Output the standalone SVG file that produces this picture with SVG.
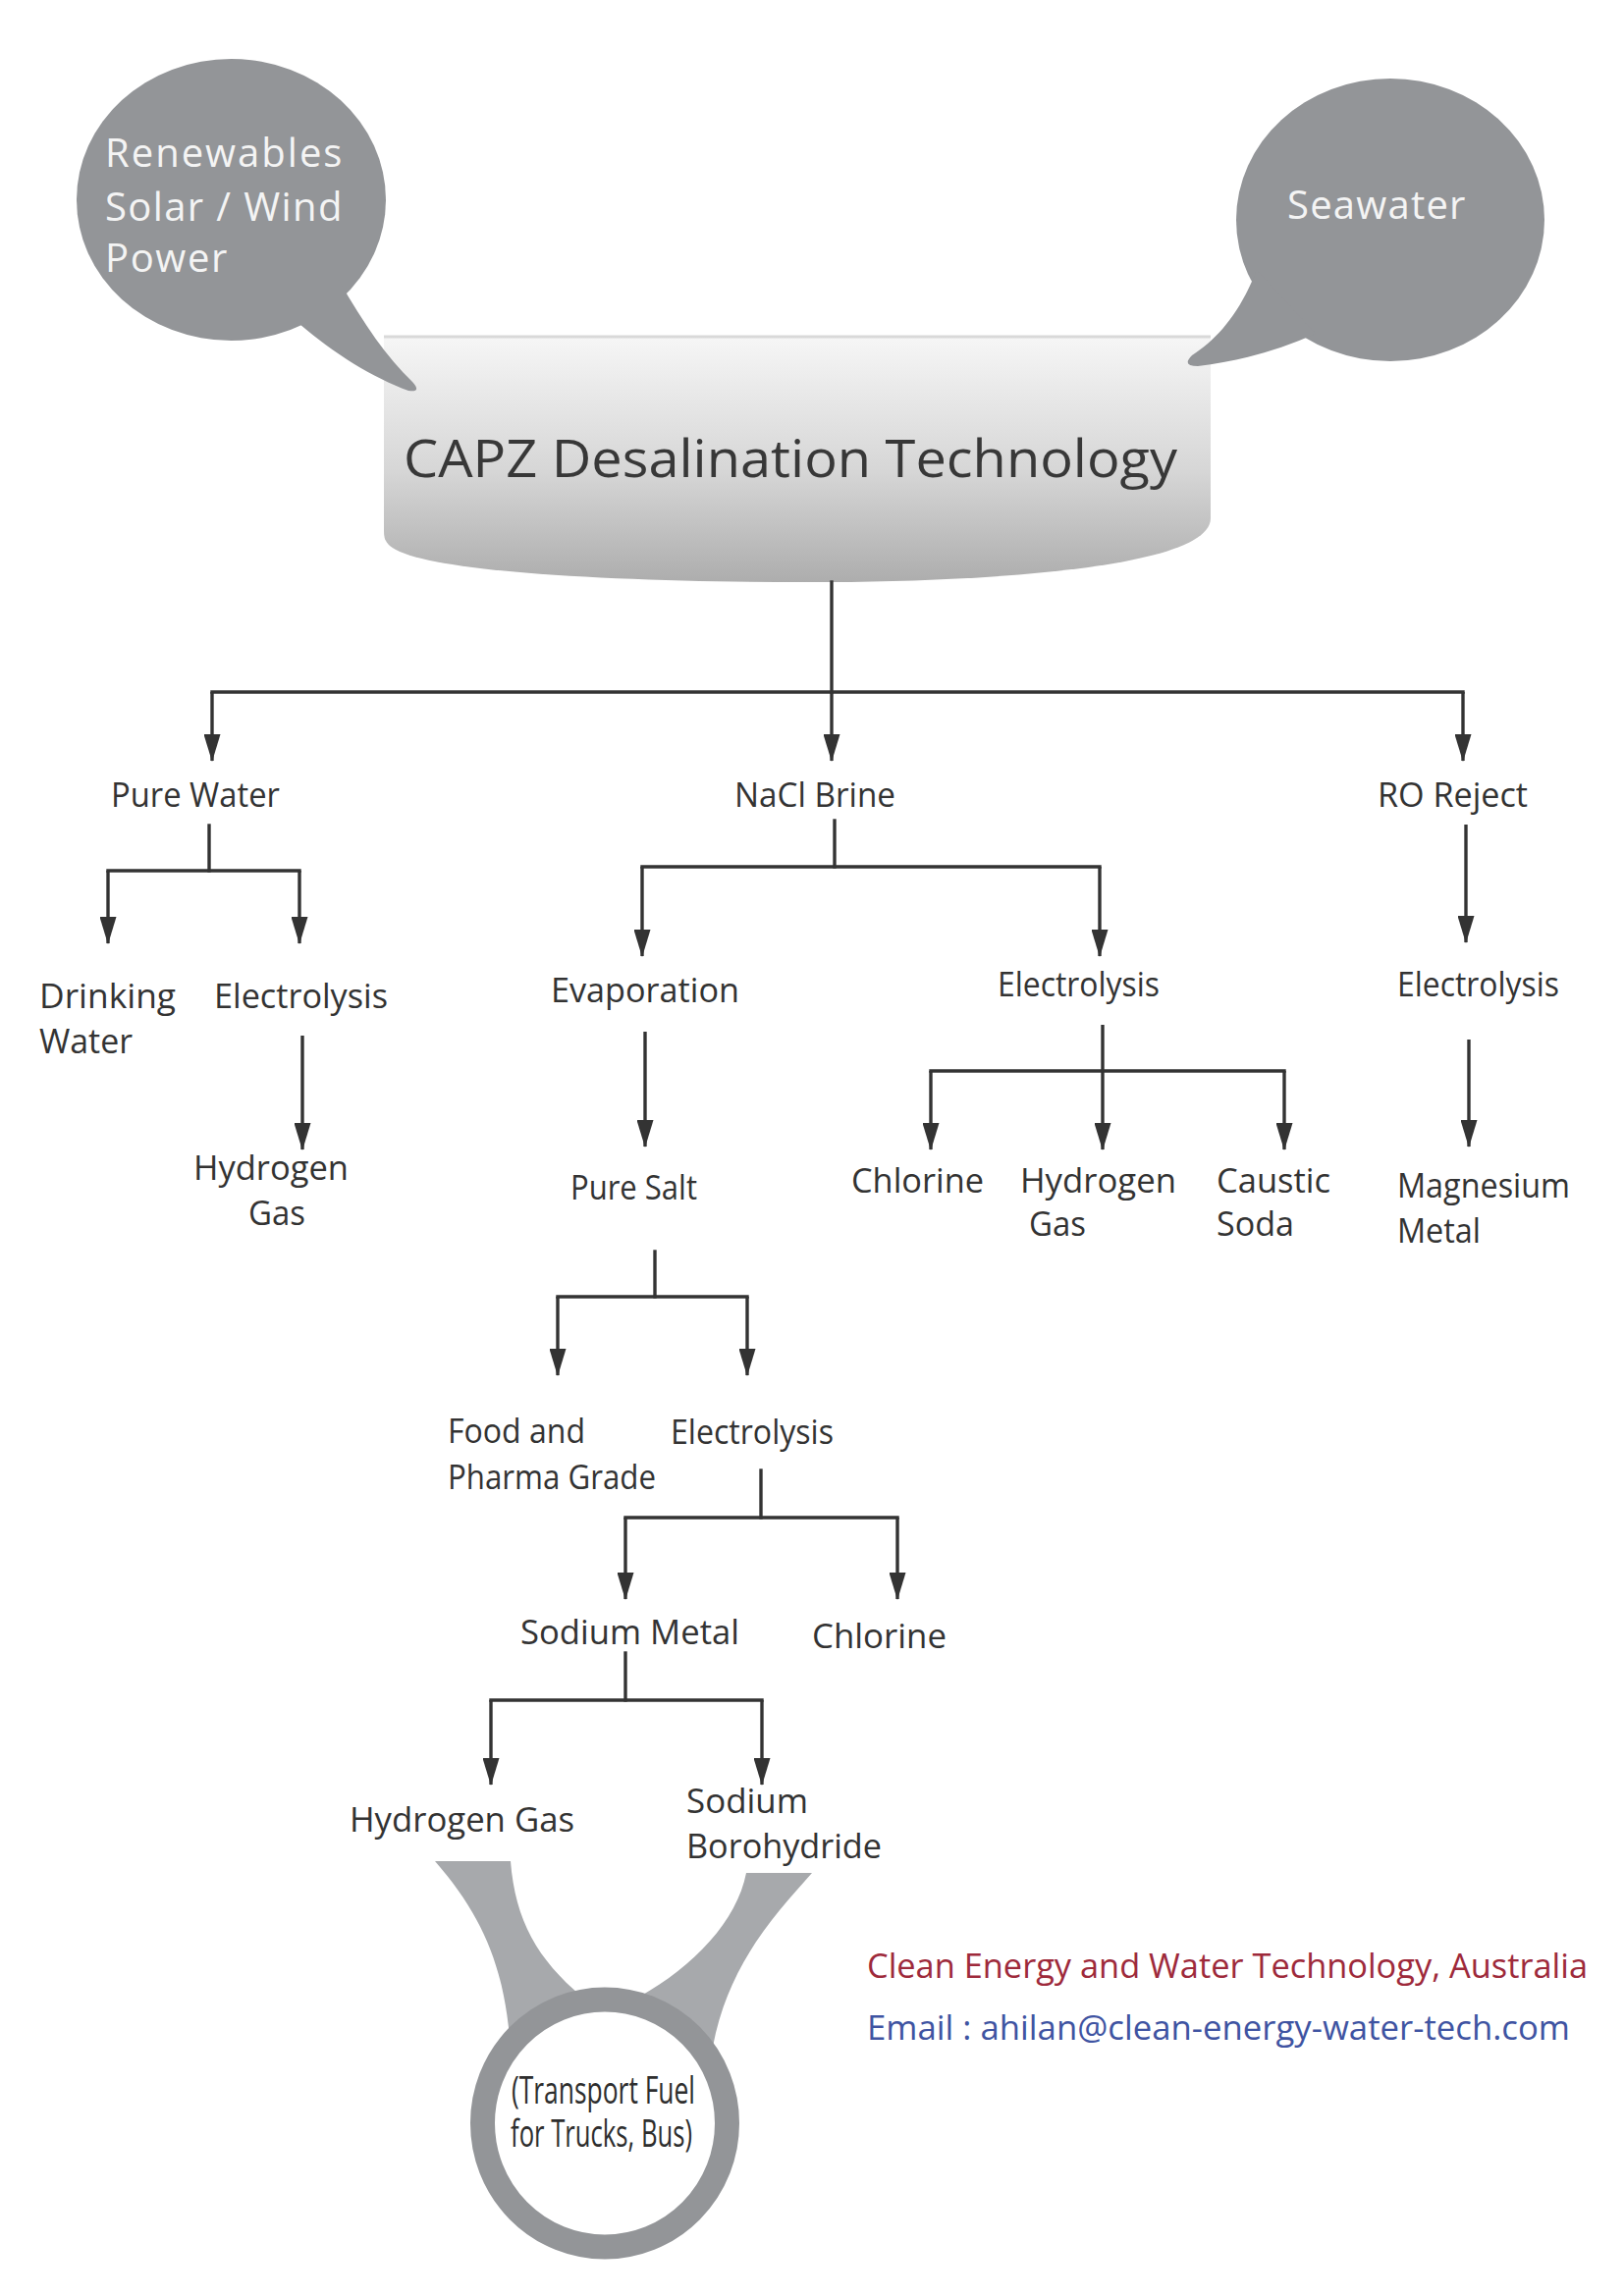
<svg xmlns="http://www.w3.org/2000/svg" width="1654" height="2339" viewBox="0 0 1654 2339">
<defs>
<style>
.lbl{font-family:"Open Sans","Noto Sans","DejaVu Sans",sans-serif;font-size:35px;fill:#333333}
.bub{fill:#939598}
.btxt{font-family:"Open Sans","Noto Sans","DejaVu Sans",sans-serif;font-size:40px;fill:#f4f4f4;letter-spacing:1.6px}
.ln{stroke:#333333;stroke-width:3.4;fill:none;stroke-linecap:square}
.ar{stroke:#333333;stroke-width:3.4;fill:none;marker-end:url(#ah)}
.fun{fill:#a7a9ac}
</style>
<marker id="ah" viewBox="0 0 28 17" refX="27" refY="8.5" markerWidth="28" markerHeight="17" markerUnits="userSpaceOnUse" orient="auto">
<path d="M0,0 L28,8.5 L0,17 Z" fill="#333333"/>
</marker>
<linearGradient id="boxg" x1="0" y1="0" x2="0" y2="1">
<stop offset="0" stop-color="#f6f6f6"/>
<stop offset="0.55" stop-color="#d6d6d6"/>
<stop offset="1" stop-color="#adadad"/>
</linearGradient>
</defs>
<rect width="1654" height="2339" fill="#ffffff"/>

<g id="main-box">
<path d="M391,343 H1233 V528 C1233,578 1010,592 846,593 C660,594 430,585 397,556 C392,551 391,548 391,540 Z" fill="url(#boxg)"/>
<line x1="391" y1="343" x2="1233" y2="343" stroke="#d9d9d9" stroke-width="3"/>
<text x="411" y="486" font-family="'Open Sans','Noto Sans','DejaVu Sans',sans-serif" font-size="53" fill="#383838" textLength="788" lengthAdjust="spacingAndGlyphs">CAPZ Desalination Technology</text>
</g>

<g id="renewables">
<ellipse class="bub" cx="235.5" cy="203.5" rx="157.5" ry="143.5"/>
<path class="bub" d="M345,285 C370,330 395,365 420,389 Q430,400 416,398 C380,385 340,360 305,330 Z"/>
<text class="btxt" x="107" y="170" textLength="243">Renewables</text>
<text class="btxt" x="107" y="225" textLength="243">Solar / Wind</text>
<text class="btxt" x="107" y="277">Power</text>
</g>

<g id="seawater">
<ellipse class="bub" cx="1416" cy="224" rx="157" ry="144"/>
<path class="bub" d="M1280,275 C1262,320 1240,345 1214,362 Q1203,373 1220,373 C1260,368 1300,358 1340,340 Z"/>
<text class="btxt" x="1311" y="223" textLength="183">Seawater</text>
</g>

<g id="connectors">
<line class="ln" x1="847" y1="593" x2="847" y2="705"/>
<line class="ln" x1="216" y1="705" x2="1490" y2="705"/>
<path class="ar" d="M216,705 V775"/>
<path class="ar" d="M847,705 V775"/>
<path class="ar" d="M1490,705 V775"/>

<line class="ln" x1="213" y1="841" x2="213" y2="887"/>
<line class="ln" x1="110" y1="887" x2="305" y2="887"/>
<path class="ar" d="M110,887 V961"/>
<path class="ar" d="M305,887 V961"/>
<path class="ar" d="M308,1055 V1171"/>

<line class="ln" x1="850" y1="836" x2="850" y2="883"/>
<line class="ln" x1="654" y1="883" x2="1120" y2="883"/>
<path class="ar" d="M654,883 V974"/>
<path class="ar" d="M1120,883 V974"/>
<path class="ar" d="M657,1051 V1168"/>

<path class="ar" d="M1123,1044 V1171"/>
<line class="ln" x1="948" y1="1091" x2="1308" y2="1091"/>
<path class="ar" d="M948,1091 V1171"/>
<path class="ar" d="M1308,1091 V1171"/>

<path class="ar" d="M1493,840 V960"/>
<path class="ar" d="M1496,1059 V1168"/>

<line class="ln" x1="667" y1="1275" x2="667" y2="1321"/>
<line class="ln" x1="568" y1="1321" x2="761" y2="1321"/>
<path class="ar" d="M568,1321 V1401"/>
<path class="ar" d="M761,1321 V1401"/>

<line class="ln" x1="775" y1="1498" x2="775" y2="1546"/>
<line class="ln" x1="637" y1="1546" x2="914" y2="1546"/>
<path class="ar" d="M637,1546 V1629"/>
<path class="ar" d="M914,1546 V1629"/>

<line class="ln" x1="637" y1="1684" x2="637" y2="1732"/>
<line class="ln" x1="500" y1="1732" x2="776" y2="1732"/>
<path class="ar" d="M500,1732 V1818"/>
<path class="ar" d="M776,1732 V1818"/>

<path class="fun" d="M443,1896 L520,1896 C525,1960 550,2000 600,2040 L519,2075 C512,2000 490,1950 443,1896 Z"/>
<path class="fun" d="M760,1908 L827,1908 C790,1950 742,2000 726,2085 L640,2040 C700,2010 750,1960 760,1908 Z"/>
</g>

<g id="pure-water"><text class="lbl" x="113" y="822" textLength="172" lengthAdjust="spacingAndGlyphs">Pure Water</text></g>
<g id="nacl-brine"><text class="lbl" x="748" y="822" textLength="164" lengthAdjust="spacingAndGlyphs">NaCl Brine</text></g>
<g id="ro-reject"><text class="lbl" x="1403" y="822" textLength="153" lengthAdjust="spacingAndGlyphs">RO Reject</text></g>

<g id="drinking-water">
<text class="lbl" x="40" y="1027" textLength="139" lengthAdjust="spacingAndGlyphs">Drinking</text>
<text class="lbl" x="40" y="1073" textLength="95" lengthAdjust="spacingAndGlyphs">Water</text>
</g>
<g id="electrolysis-water"><text class="lbl" x="218" y="1027" textLength="177" lengthAdjust="spacingAndGlyphs">Electrolysis</text></g>
<g id="hydrogen-gas-1">
<text class="lbl" x="197" y="1202" textLength="158" lengthAdjust="spacingAndGlyphs">Hydrogen</text>
<text class="lbl" x="253" y="1248" textLength="58" lengthAdjust="spacingAndGlyphs">Gas</text>
</g>

<g id="evaporation"><text class="lbl" x="561" y="1021" textLength="192" lengthAdjust="spacingAndGlyphs">Evaporation</text></g>
<g id="pure-salt"><text class="lbl" x="581" y="1222" textLength="129" lengthAdjust="spacingAndGlyphs">Pure Salt</text></g>

<g id="electrolysis-brine"><text class="lbl" x="1016" y="1015" textLength="165" lengthAdjust="spacingAndGlyphs">Electrolysis</text></g>
<g id="chlorine-1"><text class="lbl" x="867" y="1215" textLength="135" lengthAdjust="spacingAndGlyphs">Chlorine</text></g>
<g id="hydrogen-gas-2">
<text class="lbl" x="1039" y="1215" textLength="159" lengthAdjust="spacingAndGlyphs">Hydrogen</text>
<text class="lbl" x="1048" y="1259" textLength="58" lengthAdjust="spacingAndGlyphs">Gas</text>
</g>
<g id="caustic-soda">
<text class="lbl" x="1239" y="1215" textLength="116" lengthAdjust="spacingAndGlyphs">Caustic</text>
<text class="lbl" x="1239" y="1259" textLength="79" lengthAdjust="spacingAndGlyphs">Soda</text>
</g>

<g id="electrolysis-ro"><text class="lbl" x="1423" y="1015" textLength="165" lengthAdjust="spacingAndGlyphs">Electrolysis</text></g>
<g id="magnesium-metal">
<text class="lbl" x="1423" y="1220" textLength="176" lengthAdjust="spacingAndGlyphs">Magnesium</text>
<text class="lbl" x="1423" y="1266" textLength="85" lengthAdjust="spacingAndGlyphs">Metal</text>
</g>

<g id="food-pharma">
<text class="lbl" x="456" y="1470" textLength="140" lengthAdjust="spacingAndGlyphs">Food and</text>
<text class="lbl" x="456" y="1517" textLength="212" lengthAdjust="spacingAndGlyphs">Pharma Grade</text>
</g>
<g id="electrolysis-salt"><text class="lbl" x="683" y="1471" textLength="166" lengthAdjust="spacingAndGlyphs">Electrolysis</text></g>
<g id="sodium-metal"><text class="lbl" x="530" y="1675" textLength="223" lengthAdjust="spacingAndGlyphs">Sodium Metal</text></g>
<g id="chlorine-2"><text class="lbl" x="827" y="1679" textLength="137" lengthAdjust="spacingAndGlyphs">Chlorine</text></g>
<g id="hydrogen-gas-3"><text class="lbl" x="356" y="1866" textLength="229" lengthAdjust="spacingAndGlyphs">Hydrogen Gas</text></g>
<g id="sodium-borohydride">
<text class="lbl" x="699" y="1847" textLength="124" lengthAdjust="spacingAndGlyphs">Sodium</text>
<text class="lbl" x="699" y="1893" textLength="199" lengthAdjust="spacingAndGlyphs">Borohydride</text>
</g>

<g id="transport-fuel">
<ellipse cx="616" cy="2163" rx="124.5" ry="126" fill="#ffffff" stroke="#939598" stroke-width="25"/>
<text x="521" y="2143" font-family="'Open Sans','Noto Sans','DejaVu Sans',sans-serif" font-size="38" fill="#2e2e2e" textLength="187" lengthAdjust="spacingAndGlyphs">(Transport Fuel</text>
<text x="520" y="2187" font-family="'Open Sans','Noto Sans','DejaVu Sans',sans-serif" font-size="38" fill="#2e2e2e" textLength="185" lengthAdjust="spacingAndGlyphs">for Trucks, Bus)</text>
</g>

<g id="contact">
<text x="883" y="2015" font-family="'Open Sans','Noto Sans','DejaVu Sans',sans-serif" font-size="34" fill="#9e2a3b" textLength="734" lengthAdjust="spacingAndGlyphs">Clean Energy and Water Technology, Australia</text>
<text x="883" y="2078" font-family="'Open Sans','Noto Sans','DejaVu Sans',sans-serif" font-size="34" fill="#3f54a2" textLength="716" lengthAdjust="spacingAndGlyphs">Email : ahilan@clean-energy-water-tech.com</text>
</g>
</svg>
